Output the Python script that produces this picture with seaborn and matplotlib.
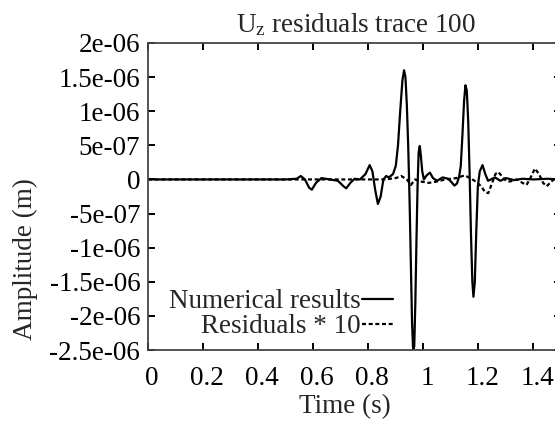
import numpy as np
import pandas as pd
import matplotlib
matplotlib.use("Agg")
import matplotlib.pyplot as plt
import matplotlib.transforms as mtransforms
import seaborn as sns

# ---- data (amplitudes in micro-metres, scaled to metres below) ----
t_num = [0.0, 0.30, 0.50, 0.54, 0.555, 0.57, 0.585, 0.595, 0.61, 0.63, 0.66, 0.69, 0.71, 0.72,
         0.735, 0.75, 0.77, 0.79, 0.805, 0.815, 0.825, 0.835, 0.845, 0.855, 0.865, 0.875,
         0.89, 0.90, 0.908, 0.916, 0.924, 0.930, 0.935, 0.940, 0.945, 0.950, 0.955, 0.959,
         0.963, 0.967, 0.971, 0.975, 0.979, 0.983, 0.987, 0.991, 0.996, 1.002, 1.012,
         1.024, 1.035, 1.05, 1.07, 1.09, 1.10, 1.113, 1.122, 1.13, 1.136, 1.142, 1.148,
         1.153, 1.158, 1.163, 1.168, 1.173, 1.178, 1.182, 1.187, 1.192, 1.198, 1.205,
         1.215, 1.225, 1.235, 1.245, 1.26, 1.28, 1.30, 1.33, 1.36, 1.40, 1.45, 1.5]
a_num = [0.0, 0.0, 0.0, 0.01, 0.05, 0.0, -0.12, -0.15, -0.05, 0.02, 0.0, -0.02, -0.10, -0.13,
         -0.05, 0.01, 0.0, 0.08, 0.21, 0.12, -0.15, -0.36, -0.25, 0.0, 0.05, 0.03,
         0.08, 0.2, 0.5, 1.0, 1.45, 1.6, 1.5, 1.1, 0.5, -0.3, -1.3, -2.1,
         -2.5, -2.45, -1.8, -0.9, -0.1, 0.4, 0.49, 0.35, 0.12, 0.0, 0.06,
         0.1, 0.02, -0.02, 0.03, 0.01, -0.03, -0.09, -0.06, 0.04, 0.2, 0.65, 1.15,
         1.38, 1.3, 0.85, 0.1, -0.8, -1.5, -1.72, -1.5, -0.8, -0.1, 0.12,
         0.21, 0.08, -0.02, 0.0, 0.03, -0.02, 0.02, -0.01, 0.01, 0.0, 0.01, 0.0]

t_res = [0.0, 0.30, 0.50, 0.80, 0.86, 0.90, 0.92, 0.94, 0.955, 0.97, 0.99, 1.02, 1.05, 1.08,
         1.12, 1.15, 1.17, 1.19, 1.21, 1.225, 1.236, 1.25, 1.262, 1.272, 1.285, 1.30,
         1.315, 1.34, 1.36, 1.375, 1.39, 1.405, 1.42, 1.435, 1.448, 1.465, 1.48, 1.5]
a_res = [0.0, 0.0, 0.0, 0.0, 0.0, 0.02, 0.05, 0.0, -0.08, 0.0, -0.03, -0.05, -0.03, 0.0,
         0.02, 0.06, 0.02, -0.03, -0.1, -0.19, -0.2, -0.05, 0.08, 0.11, 0.05, -0.02,
         -0.03, 0.0, -0.05, -0.08, 0.03, 0.16, 0.08, -0.05, -0.1, -0.03, 0.02, 0.0]

x_ticks = [0, 0.2, 0.4, 0.6, 0.8, 1.0, 1.2, 1.4]
x_labels = ["0", "0.2", "0.4", "0.6", "0.8", "1", "1.2", "1.4"]
y_ticks = [2e-6, 1.5e-6, 1e-6, 5e-7, 0, -5e-7, -1e-6, -1.5e-6, -2e-6, -2.5e-6]
y_labels = ["2e-06", "1.5e-06", "1e-06", "5e-07", "0", "-5e-07", "-1e-06",
            "-1.5e-06", "-2e-06", "-2.5e-06"]

df_num = pd.DataFrame({"t": t_num, "a": np.array(a_num) * 1e-6})
df_res = pd.DataFrame({"t": t_res, "a": np.array(a_res) * 1e-6})

sns.set_style("ticks")
plt.rcParams["font.family"] = ["Liberation Serif", "DejaVu Serif"]
plt.rcParams["mathtext.fontset"] = "custom"
plt.rcParams["mathtext.rm"] = "Liberation Serif"
plt.rcParams["mathtext.it"] = "Liberation Serif"
FS = 19.5

W, H = 555, 421
fig = plt.figure(figsize=(W / 100, H / 100), dpi=100)
left, right, top, bottom = 148, 561, 43, 350
ax = fig.add_axes([left / W, 1 - bottom / H, (right - left) / W, (bottom - top) / H])

sns.lineplot(data=df_num, x="t", y="a", ax=ax, color="black", lw=1.6,
             label="Numerical results", estimator=None, sort=False)
sns.lineplot(data=df_res, x="t", y="a", ax=ax, color="black", lw=1.6,
             label="Residuals * 10", estimator=None, sort=False)
ax.lines[1].set_dashes([1.8, 1.2])

ax.set_xlim(0, 1.5)
ax.set_ylim(-2.5e-6, 2e-6)
ax.set_xticks(x_ticks)
ax.set_xticklabels(x_labels, fontsize=FS)
ax.set_yticks(y_ticks)
ax.set_yticklabels(y_labels, fontsize=FS)
ax.tick_params(direction="in", length=5, width=1.4, top=True, right=True, colors="black")
ax.tick_params(axis="x", pad=11.5)
ax.tick_params(axis="y", pad=5.5)
shift = mtransforms.ScaledTranslation(4 / 100, 0, fig.dpi_scale_trans)
for lab in ax.get_xticklabels():
    lab.set_transform(lab.get_transform() + shift)
for s in ax.spines.values():
    s.set_color("#444444")
    s.set_linewidth(1.3)
ax.set_xlabel("")
ax.set_ylabel("")

fig.text(345 / W, 1 - 413 / H, "Time (s)", fontsize=FS, ha="center", va="baseline")
fig.text(25 / W, 1 - 259 / H, "Amplitude (m)", fontsize=FS, ha="center", va="center",
         rotation=90)
fig.text(356 / W, 1 - 32 / H, r"U$_{\rm z}$ residuals trace 100", fontsize=FS,
         ha="center", va="baseline")

leg = ax.legend(loc="lower right",
                bbox_to_anchor=((393 - left) / (right - left), (bottom - 339) / (bottom - top)),
                frameon=False, markerfirst=False, fontsize=FS, handlelength=1.15,
                handletextpad=0.05, labelspacing=0.0, borderpad=0, borderaxespad=0)
for col in leg._legend_handle_box.get_children():
    col.align = "right"

fig.savefig("out.png", dpi=100)
